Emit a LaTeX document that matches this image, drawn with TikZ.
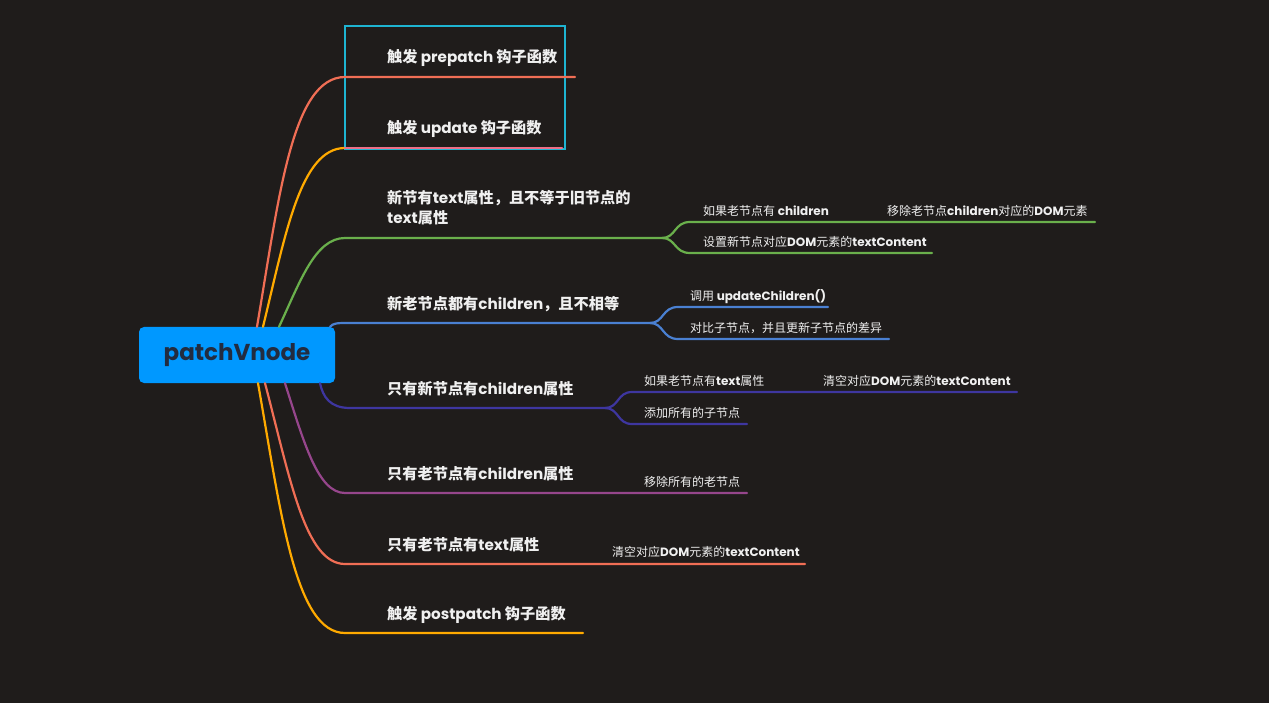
\documentclass[tikz,border=0pt]{standalone}
\usepackage{fontspec}
\setmainfont{Poppins}
\newfontfamily\cjk{Noto Sans CJK SC}
\newcommand{\zh}[1]{{\cjk #1}}
\newcommand{\zs}[1]{{\cjk\mdseries #1}}
\definecolor{bgdark}{RGB}{31,28,27}
\definecolor{rootblue}{RGB}{0,152,255}
\definecolor{roottext}{RGB}{34,44,64}
\definecolor{lbl}{RGB}{240,240,240}
\definecolor{selcyan}{RGB}{30,180,210}
\definecolor{coralln}{RGB}{240,110,85}
\definecolor{pinkln}{RGB}{236,110,135}
\definecolor{orangeln}{RGB}{255,170,0}
\definecolor{greenln}{RGB}{106,176,76}
\definecolor{blueln}{RGB}{74,128,210}
\definecolor{indigoln}{RGB}{62,54,160}
\definecolor{purpleln}{RGB}{150,70,140}
\begin{document}
\begin{tikzpicture}[x=1pt,y=-1pt,
    branch/.style={line width=2.2pt, line cap=round},
    mainlbl/.style={anchor=base west, inner sep=0pt, text=lbl, font=\bfseries\fontsize{15.2}{20}\selectfont},
    sublbl/.style={anchor=base west, inner sep=0pt, text=lbl, font=\bfseries\fontsize{12}{14}\selectfont}]
    \fill[bgdark](0,0) rectangle (1269,703);
    \useasboundingbox (0,0) rectangle (1269,703);
    % root
    \node[fill=rootblue, rounded corners=5pt, minimum width=196pt, minimum height=56pt, text=roottext, font=\bfseries\fontsize{23}{26}\selectfont] (root) at (237,355) {patchVnode};
    \draw[selcyan, line width=1.5pt](345,26) rectangle (565,149);

    % branch 1
    \coordinate (e1) at (345,77);
    \coordinate (t1) at (575,77);
    \draw[branch, coralln]([xshift=20pt]root.north) .. controls (279,197) and (292,77) .. (e1) -- (t1);
    \node[mainlbl] (l1) at ([shift={(42,-14)}]e1) {\zh{触发} prepatch \zh{钩子函数}};

    % branch 2
    \coordinate (e2) at (345,148);
    \coordinate (t2) at (562,148);
    \draw[branch, orangeln]([xshift=26pt]root.north) .. controls (285,237) and (300,148) .. (e2);
    \draw[branch, pinkln](e2) -- (t2);
    \node[mainlbl] (l2) at ([shift={(42,-14)}]e2) {\zh{触发} update \zh{钩子函数}};

    % branch 3
    \coordinate (e3) at (345,238);
    \coordinate (f3) at (662,238);
    \coordinate (g3a) at (690,222);
    \coordinate (g3b) at (690,253);
    \coordinate (t3a) at (1095,222);
    \coordinate (t3b) at (932,253);
    \draw[branch, greenln]([xshift=42pt]root.north) .. controls (300,282) and (315,238) .. (e3) -- (f3);
    \draw[branch, greenln](f3) .. controls (676,238) and (674,222) .. (g3a) -- (t3a);
    \draw[branch, greenln](f3) .. controls (676,238) and (674,253) .. (g3b) -- (t3b);
    \node[mainlbl, align=left] (l3) at ([shift={(42,-14)}]e3) {\zh{新节有}text\zh{属性，且不等于旧节点的}\\text\zh{属性}};
    \node[sublbl] (s3a) at ([shift={(13,-6.5)}]g3a) {\zs{如果老节点有} children};
    \node[sublbl] (s3c) at ([shift={(197,-6.5)}]g3a) {\zs{移除老节点}children\zs{对应的}DOM\zs{元素}};
    \node[sublbl] (s3b) at ([shift={(13,-6.5)}]g3b) {\zs{设置新节点对应}DOM\zs{元素的}textContent};

    % branch 4
    \coordinate (e4) at (348,323);
    \coordinate (f4) at (650,323);
    \coordinate (g4a) at (678,307);
    \coordinate (g4b) at (678,339);
    \coordinate (t4a) at (828,307);
    \coordinate (t4b) at (889,339);
    \draw[branch, blueln]([xshift=93pt]root.north) .. controls (333,323) and (338,323) .. (e4) -- (f4);
    \draw[branch, blueln](f4) .. controls (664,323) and (662,307) .. (g4a) -- (t4a);
    \draw[branch, blueln](f4) .. controls (664,323) and (662,339) .. (g4b) -- (t4b);
    \node[mainlbl] (l4) at ([shift={(39,-14)}]e4) {\zh{新老节点都有}children\zh{，且不相等}};
    \node[sublbl] (s4a) at ([shift={(12,-6.5)}]g4a) {\zs{调用} updateChildren()};
    \node[sublbl] (s4b) at ([shift={(12,-6.5)}]g4b) {\zs{对比子节点，并且更新子节点的差异}};

    % branch 5
    \coordinate (e5) at (350,408);
    \coordinate (f5) at (605,408);
    \coordinate (g5a) at (632,392);
    \coordinate (g5b) at (632,424);
    \coordinate (t5a) at (1017,392);
    \coordinate (t5b) at (747,424);
    \draw[branch, indigoln]([xshift=83pt]root.south) .. controls (323,397) and (330,408) .. (e5) -- (f5);
    \draw[branch, indigoln](f5) .. controls (619,408) and (617,392) .. (g5a) -- (t5a);
    \draw[branch, indigoln](f5) .. controls (619,408) and (617,424) .. (g5b) -- (t5b);
    \node[mainlbl] (l5) at ([shift={(37,-14)}]e5) {\zh{只有新节点有}children\zh{属性}};
    \node[sublbl] (s5a) at ([shift={(12,-6.5)}]g5a) {\zs{如果老节点有}text\zs{属性}};
    \node[sublbl] (s5c) at ([shift={(191,-6.5)}]g5a) {\zs{清空对应}DOM\zs{元素的}textContent};
    \node[sublbl] (s5b) at ([shift={(12,-6.5)}]g5b) {\zs{添加所有的子节点}};

    % branch 6
    \coordinate (e6) at (345,493);
    \coordinate (t6) at (747,493);
    \draw[branch, purpleln]([xshift=48pt]root.south) .. controls (304,443) and (318,493) .. (e6) -- (t6);
    \node[mainlbl] (l6) at ([shift={(42,-14)}]e6) {\zh{只有老节点有}children\zh{属性}};
    \node[sublbl] (s6) at ([shift={(299,-6.5)}]e6) {\zs{移除所有的老节点}};

    % branch 7
    \coordinate (e7) at (345,564);
    \coordinate (t7) at (805,564);
    \draw[branch, coralln]([xshift=28pt]root.south) .. controls (290,478) and (305,564) .. (e7) -- (t7);
    \node[mainlbl] (l7) at ([shift={(42,-14)}]e7) {\zh{只有老节点有}text\zh{属性}};
    \node[sublbl] (s7) at ([shift={(267,-7.5)}]e7) {\zs{清空对应}DOM\zs{元素的}textContent};

    % branch 8
    \coordinate (e8) at (345,633);
    \coordinate (t8) at (583,633);
    \draw[branch, orangeln]([xshift=21pt]root.south) .. controls (281,513) and (295,633) .. (e8) -- (t8);
    \node[mainlbl] (l8) at ([shift={(42,-14)}]e8) {\zh{触发} postpatch \zh{钩子函数}};
\end{tikzpicture}
\end{document}
